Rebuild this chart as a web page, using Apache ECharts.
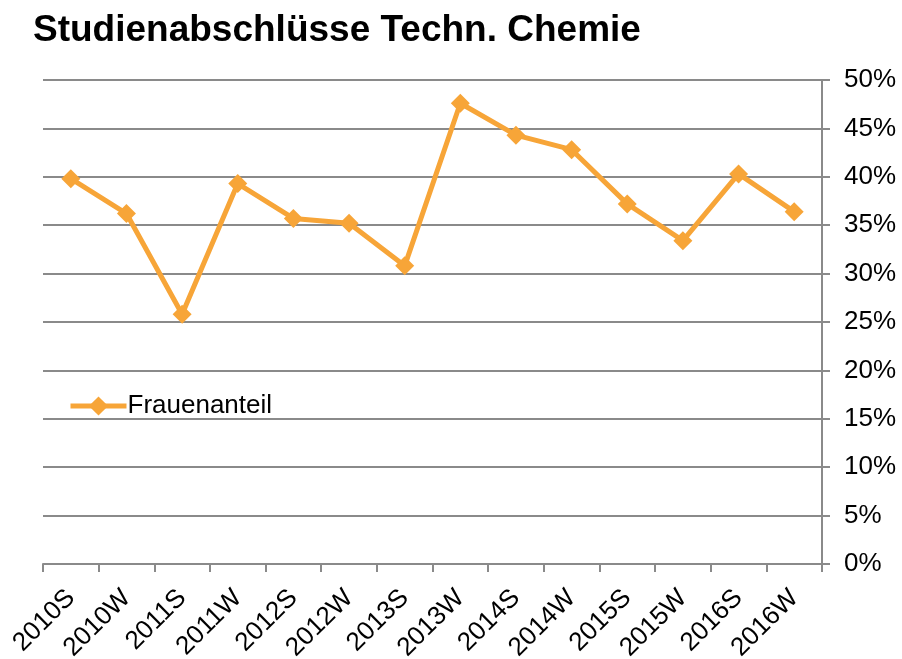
<!DOCTYPE html>
<html>
<head>
<meta charset="utf-8">
<script src="https://cdn.jsdelivr.net/npm/echarts@6/dist/echarts.min.js"></script>
<style>
  html, body { margin: 0; padding: 0; background: #fff; }
  #chart { width: 902px; height: 659px; }
</style>
</head>
<body>
<div id="chart"></div>
<script>
// Semesters (S = summer, W = winter)
const semesters = ['2010S', '2010W', '2011S', '2011W', '2012S', '2012W', '2013S',
                   '2013W', '2014S', '2014W', '2015S', '2015W', '2016S', '2016W'];
// Share of women among graduates, percent
const frauenanteil = [39.8, 36.2, 25.8, 39.3, 35.7, 35.2, 30.8,
                      47.6, 44.3, 42.8, 37.2, 33.4, 40.3, 36.4];
const seriesName = 'Frauenanteil';
const titleText = 'Studienabschlüsse Techn. Chemie';

const axisGray = '#8a8a8a';
const orange = '#F7A538';
const font = 'Liberation Sans, Arial, sans-serif';

const chart = echarts.init(document.getElementById('chart'), null, { renderer: 'canvas' });
chart.setOption({
  animation: false,
  backgroundColor: '#fff',
  title: {
    text: titleText,
    left: 28,
    top: 7,
    textStyle: { fontFamily: font, fontWeight: 'bold', fontSize: 37, color: '#000' }
  },
  legend: {
    data: [seriesName],
    left: 63,
    top: 388,
    itemWidth: 56,
    itemHeight: 24,
    itemGap: 0,
    lineStyle: { width: 5 },
    textStyle: { fontFamily: font, fontSize: 26, color: '#000', padding: [0, 0, 0, -4] }
  },
  grid: { left: 43, right: 80, top: 80, bottom: 95, containLabel: false, outerBoundsMode: 'none' },
  xAxis: {
    type: 'category',
    data: semesters,
    boundaryGap: true,
    axisLine: { show: true, lineStyle: { color: axisGray, width: 2 } },
    axisTick: { show: true, alignWithLabel: false, length: 8, lineStyle: { color: axisGray, width: 2 } },
    axisLabel: {
      interval: 0,
      rotate: 45,
      margin: 30,
      fontFamily: font,
      fontSize: 26,
      color: '#000'
    },
    splitLine: { show: false }
  },
  yAxis: {
    type: 'value',
    position: 'right',
    min: 0,
    max: 50,
    interval: 5,
    axisLine: { show: true, lineStyle: { color: axisGray, width: 2 } },
    axisTick: { show: true, inside: false, length: 8, lineStyle: { color: axisGray, width: 2 } },
    axisLabel: {
      formatter: '{value}%',
      margin: 22,
      fontFamily: font,
      fontSize: 26,
      color: '#000'
    },
    splitLine: { show: true, lineStyle: { color: axisGray, width: 2 } }
  },
  series: [{
    name: seriesName,
    type: 'line',
    data: frauenanteil,
    symbol: 'diamond',
    symbolSize: 19,
    lineStyle: { color: orange, width: 5 },
    itemStyle: { color: orange },
    z: 3
  }]
});
</script>
</body>
</html>
